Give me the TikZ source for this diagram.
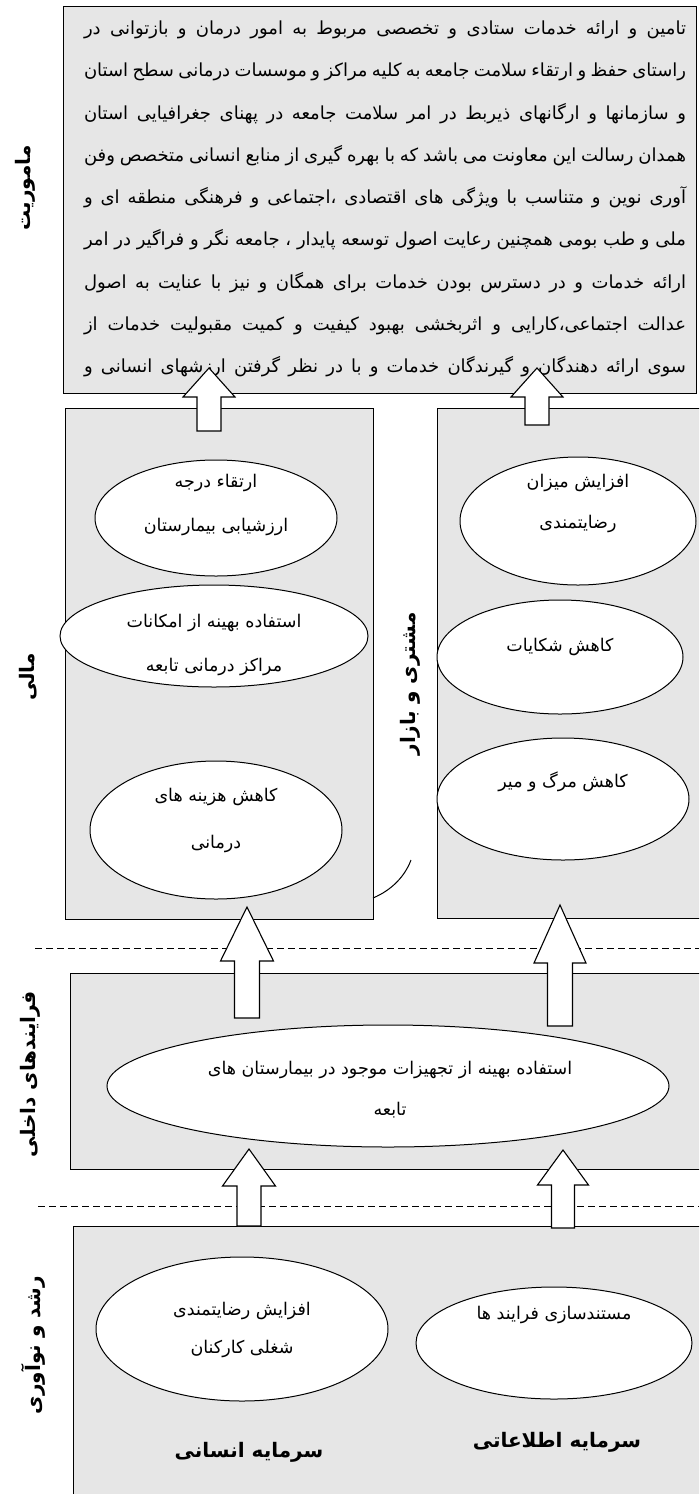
\documentclass[tikz,border=0pt]{standalone}
\usepackage{fontspec}
\usepackage{tikz}
\usetikzlibrary{shapes.geometric}
\TeXXeTstate=1
\newfontfamily\farsi[Script=Arabic]{DejaVu Sans}
\definecolor{panelgray}{RGB}{230,230,230}
\newcommand{\fa}[1]{\beginR#1\endR}

\begin{document}
\begin{tikzpicture}[x=1pt,y=-1pt]
  \tikzset{panel/.style={draw=black,line width=1.2pt,fill=panelgray,anchor=north west,inner sep=0pt},
    oval/.style={ellipse,draw=black,line width=1pt,fill=white,inner sep=0pt},
    otext/.style={font=\farsi\fontsize{17.5}{44}\selectfont,align=center,inner sep=0pt},
    sidelabel/.style={font=\farsi\bfseries\fontsize{20}{22}\selectfont,rotate=90,inner sep=0pt},
    captext/.style={font=\farsi\bfseries\fontsize{20}{22}\selectfont,inner sep=0pt},
    blk/.style={draw=black,line width=1.1pt,fill=white,line join=miter},
    sepline/.style={dash pattern=on 7pt off 4pt,line width=0.7pt}}
  \useasboundingbox (0,0) rectangle (699,1494);
  \clip (0,0) rectangle (699,1494);

  % mission
  \node[panel,minimum width=633pt,minimum height=387pt] (mission) at (63,6) {};
  \node[font=\farsi\fontsize{18}{42.25}\selectfont,text width=602pt,align=justify,inner sep=0pt] (mtext) at (385,199) {\noindent\parfillskip=0pt
    \fa{تامین و ارائه خدمات ستادی و تخصصی مربوط به امور درمان و بازتوانی در}\linebreak
    \fa{راستای حفظ و ارتقاء سلامت جامعه به کلیه مراکز و موسسات درمانی سطح استان}\linebreak
    \fa{و سازمانها و ارگانهای ذیربط در امر سلامت جامعه در پهنای جغرافیایی استان}\linebreak
    \fa{همدان رسالت این معاونت می باشد که با بهره گیری از منابع انسانی متخصص وفن}\linebreak
    \fa{آوری نوین و متناسب با ویژگی های اقتصادی ،اجتماعی و فرهنگی منطقه ای و}\linebreak
    \fa{ملی و طب بومی همچنین رعایت اصول توسعه پایدار ، جامعه نگر و فراگیر در امر}\linebreak
    \fa{ارائه خدمات و در دسترس بودن خدمات برای همگان و نیز با عنایت به اصول}\linebreak
    \fa{عدالت اجتماعی،کارایی و اثربخشی بهبود کیفیت و کمیت مقبولیت خدمات از}\linebreak
    \fa{سوی ارائه دهندگان و گیرندگان خدمات و با در نظر گرفتن ارزشهای انسانی و}\par};
  \node[sidelabel] (lmission) at (25,188) {\fa{ماموریت}};

  % financial and customer
  \node[panel,minimum width=308pt,minimum height=511pt] (finance) at (65,408) {};
  \node[panel,minimum width=268pt,minimum height=510pt] (customer) at (437,408) {};
  \node[oval,minimum width=242pt,minimum height=116pt] (fin1) at (216,518) {};
  \node[otext] (fin1t) at (216,505) {\fa{ارتقاء درجه}\\\fa{ارزشیابی بیمارستان}};
  \node[oval,minimum width=308pt,minimum height=102pt] (fin2) at (214,636) {};
  \node[otext] (fin2t) at (214,645) {\fa{استفاده بهینه از امکانات}\\\fa{مراکز درمانی تابعه}};
  \node[oval,minimum width=252pt,minimum height=138pt] (fin3) at (216,830) {};
  \node[otext,font=\farsi\fontsize{17.5}{47}\selectfont] (fin3t) at (216,820) {\fa{کاهش هزینه های}\\\fa{درمانی}};
  \node[oval,minimum width=236pt,minimum height=128pt] (cus1) at (578,521) {};
  \node[otext,font=\farsi\fontsize{17.5}{41}\selectfont] (cus1t) at (578,503) {\fa{افزایش میزان}\\\fa{رضایتمندی}};
  \node[oval,minimum width=246pt,minimum height=114pt] (cus2) at (560,657) {};
  \node[otext] (cus2t) at (560,647) {\fa{کاهش شکایات}};
  \node[oval,minimum width=252pt,minimum height=122pt] (cus3) at (563,799) {};
  \node[otext] (cus3t) at (563,782) {\fa{کاهش مرگ و میر}};
  \draw[line width=1pt] (373,898) .. controls (392,890) and (405,876) .. (411,860);
  \node[sidelabel] (lfinance) at (28,677) {\fa{مالی}};
  \node[sidelabel] (lcustomer) at (410,684) {\fa{مشتری و بازار}};

  \draw[sepline] (35,948) -- (699,948);

  % internal processes
  \node[panel,minimum width=640pt,minimum height=196pt] (process) at (70,973) {};
  \node[oval,minimum width=562pt,minimum height=122pt] (pro1) at (388,1086) {};
  \node[otext,font=\farsi\fontsize{17.5}{41}\selectfont] (pro1t) at (390,1090) {\fa{استفاده بهینه از تجهیزات موجود در بیمارستان های}\\\fa{تابعه}};
  \node[sidelabel] (lprocess) at (30,1074) {\fa{فرایندهای داخلی}};

  \draw[sepline] (38,1206) -- (699,1206);

  % learning and growth
  \node[panel,minimum width=640pt,minimum height=280pt] (growth) at (73,1226) {};
  \node[oval,minimum width=292pt,minimum height=144pt] (gro1) at (242,1329) {};
  \node[otext,font=\farsi\fontsize{17.5}{38}\selectfont] (gro1t) at (242,1330) {\fa{افزایش رضایتمندی}\\\fa{شغلی کارکنان}};
  \node[oval,minimum width=276pt,minimum height=112pt] (gro2) at (554,1343) {};
  \node[otext] (gro2t) at (554,1315) {\fa{مستندسازی فرایند ها}};
  \node[captext] (human) at (249,1452) {\fa{سرمایه انسانی}};
  \node[captext] (info) at (557,1442) {\fa{سرمایه اطلاعاتی}};
  \node[sidelabel] (lgrowth) at (33,1345) {\fa{رشد و نوآوری}};

  % block arrows: x / tip / head base / tail / head half / shaft half
  \foreach \ax/\tip/\hb/\tl/\hw/\sw in {209/368/397/431/26/12,537/368/397/425/26/12,
      247/907/961/1018/26.5/12.5,560/905/963/1026/26/12.5,
      249/1149/1186/1226/26.5/12,563/1150/1185/1228/25.5/11.5}{
    \draw[blk] ({\ax-\sw},\tl) -- ({\ax+\sw},\tl) -- ({\ax+\sw},\hb) -- ({\ax+\hw},\hb)
      -- (\ax,\tip) -- ({\ax-\hw},\hb) -- ({\ax-\sw},\hb) -- cycle;
  }
\end{tikzpicture}
\end{document}
